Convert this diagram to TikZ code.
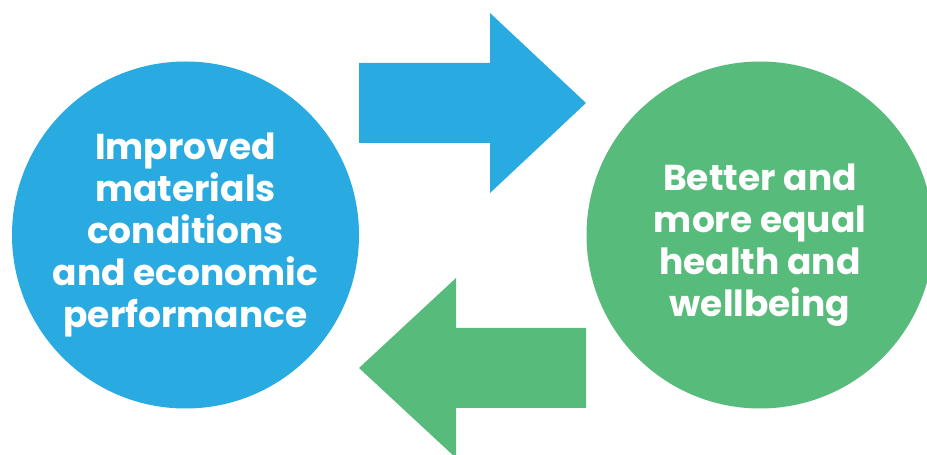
\documentclass[tikz,border=0pt]{standalone}
\usepackage{fontspec}
\setmainfont{Poppins}[BoldFont={* Bold}]
\definecolor{cblue}{RGB}{41,171,226}
\definecolor{cgreen}{RGB}{87,188,123}
\tikzset{
  bubble/.style={circle, minimum size=347pt, inner sep=0pt},
  bubbletext/.style={text=white, align=center, inner sep=0pt,
    font=\fontsize{36}{42}\selectfont\bfseries},
  blockarrow/.style={draw=none}
}
\begin{document}
\begin{tikzpicture}[x=1pt,y=1pt]
\useasboundingbox (0,0) rectangle (927,455);
\clip (0,0) rectangle (927,455);
\node[bubble, fill=cblue] (left) at (185.5,220) {};
\node[bubbletext] (ltext) at (left.center) {Improved\\materials\\conditions\\and economic\\performance};
\node[bubble, fill=cgreen] (right) at (760,220) {};
\node[bubbletext] (rtext) at ([yshift=-10pt]right.center) {Better and\\more equal\\health and\\wellbeing};
\coordinate (bstart) at (359,352);
\coordinate (gstart) at (586,87);
\fill[cblue, blockarrow] (bstart) ++(0,-40) -- ++(0,80) -- ++(131,0) -- ++(0,50) -- (586,352) -- (490,262) -- (490,312) -- cycle;
\fill[cgreen, blockarrow] (gstart) ++(0,40) -- ++(-130,0) -- ++(0,50) -- (359,87) -- (456,-3) -- (456,47) -- (586,47) -- cycle;
\end{tikzpicture}
\end{document}
